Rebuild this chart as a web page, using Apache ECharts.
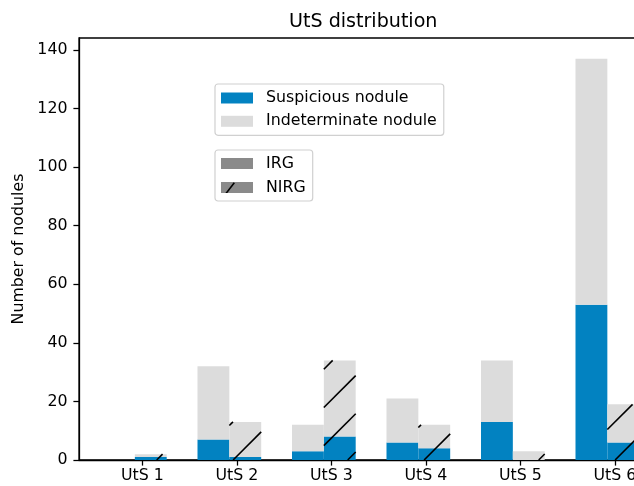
<!DOCTYPE html>
<html><head><meta charset="utf-8">
<script src="https://cdn.jsdelivr.net/npm/echarts@6/dist/echarts.min.js"></script>
<style>html,body{margin:0;padding:0;background:#fff}#c{width:634px;height:486px}</style>
</head><body><div id="c"></div>
<script>
const categories = ['UtS 1', 'UtS 2', 'UtS 3', 'UtS 4', 'UtS 5', 'UtS 6'];
const irgSuspicious = [0, 7, 3, 6, 13, 53];
const irgIndeterminate = [0, 25, 9, 15, 21, 84];
const nirgSuspicious = [1, 1, 8, 4, 0, 6];
const nirgIndeterminate = [1, 12, 26, 8, 3, 13];
const yTicks = [0, 20, 40, 60, 80, 100, 120, 140];
const xTicks = [0, 1, 2, 3, 4, 5];

const BAR_W = 0.337, GAP = 0.079;
const BLUE = '#0282c1', GREY = '#dcdcdc', HANDLE = '#8a8a8a';
const FONT = 'DejaVu Sans';
const FS = 15.8;
const HATCH_P = 38.2, HATCH_PH = 5.5;

const suspItems = [], indetItems = [], nirgTotals = [];
categories.forEach((c, i) => {
  suspItems.push([i, 0, 0, irgSuspicious[i]]);
  suspItems.push([i, 1, 0, nirgSuspicious[i]]);
  indetItems.push([i, 0, irgSuspicious[i], irgSuspicious[i] + irgIndeterminate[i]]);
  indetItems.push([i, 1, nirgSuspicious[i], nirgSuspicious[i] + nirgIndeterminate[i]]);
  nirgTotals.push([i, 1, 0, nirgSuspicious[i] + nirgIndeterminate[i]]);
});

function barRect(api) {
  const i = api.value(0), g = api.value(1);
  const xl = g === 0 ? i - GAP - BAR_W : i - GAP;
  const p0 = api.coord([xl, api.value(2)]);
  const p1 = api.coord([xl + BAR_W, api.value(3)]);
  return { x: p0[0], y: p1[1], width: p1[0] - p0[0], height: p0[1] - p1[1] };
}
function renderBar(params, api) {
  const r = barRect(api);
  if (r.height <= 0) return null;
  return { type: 'rect', shape: r, style: { fill: api.visual('color') } };
}
function renderHatch(params, api) {
  const r = barRect(api);
  if (r.height <= 0) return null;
  const x0 = r.x, x1 = r.x + r.width, y0 = r.y, y1 = r.y + r.height;
  const children = [];
  for (let k = Math.floor((x0 + y0 - HATCH_PH) / HATCH_P); ; k++) {
    const c = HATCH_PH + k * HATCH_P;
    if (c > x1 + y1) break;
    const xa = Math.max(x0, c - y1), xb = Math.min(x1, c - y0);
    if (xb > xa) children.push({ type: 'line', shape: { x1: xa, y1: c - xa, x2: xb, y2: c - xb }, style: { stroke: '#000', lineWidth: 1.6 } });
  }
  return { type: 'group', children };
}

const txt = { fontFamily: FONT, fontSize: FS, color: '#000' };
const axisLine = { show: true, onZero: false, lineStyle: { color: '#000', width: 1.27 } };
const legendBase = {
  orient: 'vertical', left: 215, itemWidth: 32, itemHeight: 11, icon: 'rect',
  borderColor: '#d0d0d0', borderWidth: 1.2, borderRadius: 3, backgroundColor: 'rgba(255,255,255,0.8)',
  textStyle: Object.assign({ lineHeight: 16, padding: [0, 0, 0, 8] }, txt), selectedMode: false
};
const nirgIcon = 'image://data:image/svg+xml;charset=utf-8,' + encodeURIComponent(
  '<svg xmlns="http://www.w3.org/2000/svg" width="32" height="11" viewBox="0 0 32 11">' +
  '<rect width="32" height="11" fill="' + HANDLE + '"/>' +
  '<line x1="5" y1="11.4" x2="13.3" y2="0.7" stroke="#000" stroke-width="1.6"/></svg>');

const chart = echarts.init(document.getElementById('c'), null, { renderer: 'canvas' });
chart.setOption({
  animation: false,
  textStyle: { fontFamily: FONT },
  title: { text: 'UtS distribution', left: 289, top: 12.5, padding: 0, textStyle: Object.assign({}, txt, { fontWeight: 'normal', fontSize: 19.1 }) },
  grid: { left: 79, top: 38, width: 578, height: 422, outerBoundsMode: 'none', containLabel: false, show: true, borderColor: '#000', borderWidth: 1.27, backgroundColor: 'transparent' },
  xAxis: {
    type: 'value', min: -0.67, max: 5.4465,
    axisLine: axisLine, splitLine: { show: false },
    axisTick: { show: true, customValues: xTicks, length: 5.6, lineStyle: { color: '#000', width: 1.27 } },
    axisLabel: Object.assign({ customValues: xTicks, formatter: v => categories[Math.round(v)], margin: 8 }, txt)
  },
  yAxis: {
    type: 'value', min: 0, max: 144.1,
    name: 'Number of nodules', nameLocation: 'middle', nameGap: 42, nameTextStyle: txt,
    axisLine: axisLine, splitLine: { show: false },
    axisTick: { show: true, customValues: yTicks, length: 5.6, lineStyle: { color: '#000', width: 1.27 } },
    axisLabel: Object.assign({ customValues: yTicks, margin: 11.5 }, txt)
  },
  legend: [
    Object.assign({}, legendBase, { top: 84, padding: [6, 7, 6, 6], itemGap: 7.3, data: ['Suspicious nodule', 'Indeterminate nodule'] }),
    Object.assign({}, legendBase, { top: 150, padding: [5.5, 7, 5.5, 6], itemGap: 8, data: [
      { name: 'IRG' },
      { name: 'NIRG', icon: nirgIcon }
    ] })
  ],
  series: [
    { name: 'Suspicious nodule', type: 'custom', renderItem: renderBar, data: suspItems, itemStyle: { color: BLUE } },
    { name: 'Indeterminate nodule', type: 'custom', renderItem: renderBar, data: indetItems, itemStyle: { color: GREY } },
    { name: 'NIRG', type: 'custom', renderItem: renderHatch, data: nirgTotals, itemStyle: { color: HANDLE } },
    { name: 'IRG', type: 'custom', renderItem: renderBar, data: [], itemStyle: { color: HANDLE } }
  ]
});
</script></body></html>
